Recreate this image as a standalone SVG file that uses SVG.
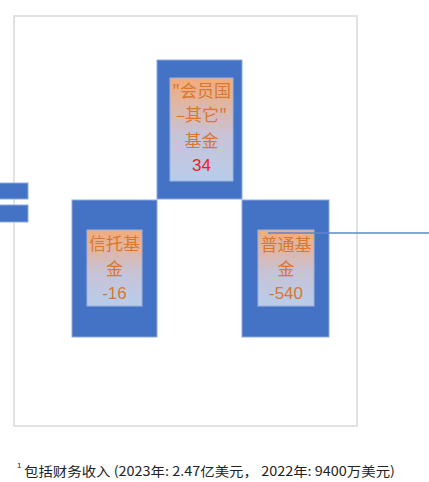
<svg xmlns="http://www.w3.org/2000/svg" width="429" height="482" viewBox="0 0 429 482">
<defs>
<linearGradient id="g" x1="0" y1="0" x2="0" y2="1">
<stop offset="0" stop-color="#f4ab78"/>
<stop offset="0.55" stop-color="#c8c2d6"/>
<stop offset="1" stop-color="#b8cdeb"/>
</linearGradient>
<style>
.outer{fill:#4472c4;stroke:#8eaadb;stroke-width:1}
.inner{fill:url(#g);stroke:#9db4de;stroke-width:1}
.t{font-family:"Noto Sans CJK SC","Liberation Sans",sans-serif;font-size:17px;fill:#d9772f;text-anchor:middle}
.n{font-family:"Liberation Sans",sans-serif;font-size:17px;text-anchor:middle}
.frame{fill:none;stroke:#e2e2e2;stroke-width:2}
</style>
</defs>
<rect class="frame" x="14" y="16" width="343" height="410"/>
<g id="left-stubs">
<rect class="outer" x="-1" y="183" width="29" height="16"/>
<rect class="outer" x="-1" y="205" width="29" height="17"/>
</g>
<g id="node-member">
<rect class="outer" x="157" y="60" width="85" height="139"/>
<rect class="inner" x="170" y="78" width="63" height="103"/>
<text class="t" x="201.5" y="97">"会员国</text>
<text class="t" x="201.5" y="121">–其它"</text>
<text class="t" x="201.5" y="147">基金</text>
<text class="n" x="201.5" y="171" fill="#ee1c25">34</text>
</g>
<g id="node-trust">
<rect class="outer" x="72" y="200" width="85" height="137"/>
<rect class="inner" x="87" y="230" width="55" height="76"/>
<text class="t" x="114.5" y="250">信托基</text>
<text class="t" x="114.5" y="275">金</text>
<text class="n" x="114.5" y="299" fill="#d9772f">-16</text>
</g>
<g id="node-general">
<rect class="outer" x="242" y="200" width="87" height="137"/>
<rect class="inner" x="258" y="230" width="56" height="76"/>
<text class="t" x="286" y="251">普通基</text>
<text class="t" x="286" y="275">金</text>
<text class="n" x="286" y="299" fill="#d9772f">-540</text>
</g>
<g id="connectors">
<line x1="268" y1="233" x2="429" y2="233" stroke="#5b86d0" stroke-width="1.5"/>
</g>
<g id="footnote">
<text x="17" y="468" font-family="Liberation Sans,sans-serif" font-size="8" fill="#222">1</text>
<text x="24" y="476" font-family="Noto Sans CJK SC,Liberation Sans,sans-serif" font-size="13" fill="#222" textLength="371" lengthAdjust="spacingAndGlyphs">包括财务收入 (2023年: 2.47亿美元， 2022年: 9400万美元)</text>
</g>
</svg>
